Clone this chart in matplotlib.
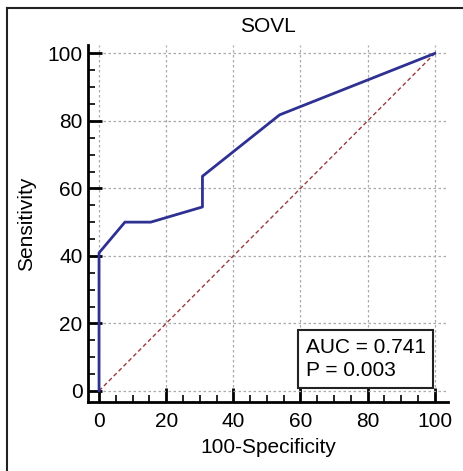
import matplotlib
matplotlib.use('Agg')
import matplotlib.pyplot as plt
from matplotlib.lines import Line2D
from matplotlib.ticker import MultipleLocator

plt.rcParams['font.family'] = ['Liberation Sans', 'DejaVu Sans']

fpr = [0, 0, 7.7, 15.4, 30.8, 30.8, 53.8, 100]
tpr = [0, 40.9, 50, 50, 54.5, 63.6, 81.8, 100]
ticks = [0, 20, 40, 60, 80, 100]
auc_text = 'AUC = 0.741\nP = 0.003'

fig = plt.figure(figsize=(4.63, 4.71), dpi=100)
ax = fig.add_axes([0.190, 0.1465, 0.778, 0.758])

ax.plot([0, 100], [0, 100], color='#9a3a3a', lw=1, linestyle=(0, (3, 2)), zorder=2)
ax.plot(fpr, tpr, color='#2e3192', lw=2, zorder=3)

ax.set_xlim(-3.3, 104)
ax.set_ylim(-3.3, 102.5)
ax.set_xticks(ticks)
ax.set_yticks(ticks)
ax.xaxis.set_minor_locator(MultipleLocator(5))
ax.yaxis.set_minor_locator(MultipleLocator(5))
ax.tick_params(which='major', direction='in', length=10, width=2, labelsize=15)
ax.tick_params(axis='x', which='major', pad=7)
ax.tick_params(axis='y', which='major', pad=4)
ax.tick_params(which='minor', direction='in', length=5, width=1.2)
ax.grid(True, which='major', color='#aaaaaa', linestyle=(0, (2, 2)), lw=0.9)

for s in ['top', 'right']:
    ax.spines[s].set_visible(False)
for s in ['left', 'bottom']:
    ax.spines[s].set_linewidth(2)

ax.set_title('SOVL', fontsize=15, pad=9)
ax.set_xlabel('100-Specificity', fontsize=15, labelpad=5)
ax.set_ylabel('Sensitivity', fontsize=15, labelpad=8)

ax.text(61.5, 9.5, auc_text, fontsize=15, va='center', ha='left', linespacing=1.25,
        bbox=dict(boxstyle='square,pad=0.38', fc='white', ec='#222222', lw=1.5), zorder=5)

# outer frame (top and left edges)
fig.add_artist(Line2D([7 / 463, 1], [1 - 8 / 471, 1 - 8 / 471], color='#222222', lw=1.5))
fig.add_artist(Line2D([7 / 463, 7 / 463], [0, 1 - 8 / 471], color='#222222', lw=1.5))

fig.savefig('out.png', dpi=100)
